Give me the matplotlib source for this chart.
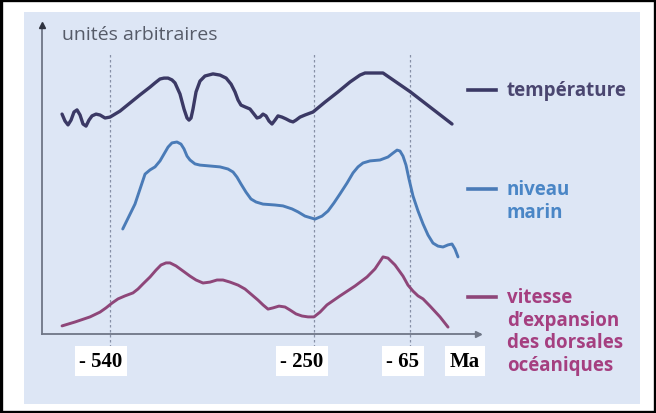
import numpy as np
import matplotlib
matplotlib.use("Agg")
import matplotlib.pyplot as plt
from matplotlib.patches import Rectangle
from matplotlib.lines import Line2D

# ---------------- data (time in Ma, values in arbitrary units) ----------------
temp_t = [-608.2, -604, -599.7, -595.4, -591.2, -586.9, -582.6, -578.4, -574.1, -569.9,
          -565.6, -559.9, -554.2, -547.1, -540, -525.8, -511.6, -497.4, -483.1, -476,
          -469, -463.2, -457.5, -451.9, -447.6, -440.5, -434.8, -430.5, -427.7, -424.8,
          -422, -417.7, -412.1, -405, -393.6, -383.6, -374.9, -367.9, -362.3, -358,
          -353.8, -348.1, -341, -335.3, -331, -326.8, -322.5, -318.2, -314, -309.7,
          -305.4, -301.2, -295.5, -289.8, -284.1, -279.8, -275.6, -269.9, -262.8, -251.4,
          -228.8, -203.7, -180.6, -161.4, -151.7, -117, -65, -19.5]
temp_v = [7.33, 7.1, 6.97, 7.13, 7.4, 7.47, 7.3, 7.0, 6.93, 7.13,
          7.27, 7.33, 7.3, 7.2, 7.23, 7.43, 7.7, 7.97, 8.23, 8.37,
          8.5, 8.53, 8.53, 8.47, 8.37, 8.0, 7.5, 7.2, 7.13, 7.2,
          7.5, 8.07, 8.43, 8.6, 8.67, 8.63, 8.53, 8.33, 8.07, 7.8,
          7.63, 7.57, 7.5, 7.33, 7.2, 7.23, 7.33, 7.27, 7.1, 7.0,
          7.13, 7.27, 7.23, 7.17, 7.1, 7.07, 7.13, 7.23, 7.3, 7.4,
          7.73, 8.07, 8.4, 8.63, 8.7, 8.7, 8.08, 7.0]

mer_t = [-521.9, -504.5, -490.2, -483.1, -476, -468.9, -463.2, -457.5, -451.9, -444.8,
         -439.1, -434.8, -430.5, -426.3, -419.2, -412.1, -397.8, -383.6, -372.3, -365.1,
         -359.5, -353.8, -346.7, -339.6, -332.4, -322.5, -305.4, -294.1, -281.3, -272.7,
         -262.8, -248.1, -234.6, -223, -211.5, -199.9, -186.4, -174.8, -165.2, -155.6,
         -142.1, -122.8, -107.4, -97.8, -90, -84.3, -78.5, -72.7, -67, -61.75,
         -56.3, -50.9, -45.5, -40.1, -34.7, -29.25, -23.8, -19.5, -16.25, -13]
mer_v = [3.5, 4.33, 5.33, 5.47, 5.57, 5.77, 6.0, 6.23, 6.37, 6.4,
         6.33, 6.17, 5.93, 5.8, 5.67, 5.63, 5.6, 5.57, 5.5, 5.4,
         5.23, 5.0, 4.73, 4.5, 4.4, 4.33, 4.3, 4.27, 4.17, 4.07,
         3.93, 3.83, 3.93, 4.1, 4.37, 4.67, 5.03, 5.37, 5.57, 5.7,
         5.77, 5.8, 5.9, 6.03, 6.13, 6.1, 5.93, 5.63, 5.17, 4.6,
         4.1, 3.67, 3.3, 3.03, 2.93, 2.9, 2.97, 3.0, 2.83, 2.57]

vit_t = [-608.2, -589.8, -568.4, -554.2, -545.7, -537.2, -528.6, -518.7, -507.3, -500.2,
         -493.1, -483.1, -474.6, -467.5, -460.4, -454.7, -446.2, -436.2, -426.3, -417.7,
         -407.8, -397.8, -387.9, -379.4, -369.4, -358, -348.1, -338.1, -329.6, -322.5,
         -315.4, -308.3, -299.8, -291.2, -284.1, -275.6, -267.1, -258.5, -250, -238.4,
         -225, -199.9, -171, -147.9, -132.5, -117, -107.4, -93.9, -78.5, -68.9,
         -61.75, -56.3, -50.9, -43.3, -32.5, -23.8]
vit_v = [0.27, 0.4, 0.57, 0.73, 0.87, 1.03, 1.17, 1.27, 1.37, 1.5,
         1.67, 1.9, 2.13, 2.3, 2.37, 2.37, 2.27, 2.1, 1.93, 1.8,
         1.7, 1.73, 1.8, 1.8, 1.73, 1.63, 1.5, 1.3, 1.13, 0.97,
         0.83, 0.87, 0.93, 0.9, 0.8, 0.67, 0.6, 0.57, 0.57, 0.73,
         0.97, 1.27, 1.6, 1.9, 2.17, 2.57, 2.53, 2.3, 1.93, 1.63,
         1.43, 1.27, 1.17, 0.93, 0.57, 0.23]

ticks = [-540, -250, -65]
tick_labels = ["- 540", "- 250", "- 65"]
unit_label = "Ma"
y_label = "unités arbitraires"
legend_labels = [["température"], ["niveau", "marin"],
                 ["vitesse", "d\u2019expansion", "des dorsales", "océaniques"]]

# ---------------- styling ----------------
W, H = 656, 414
c_temp = "#3b3965"
c_mer = "#4a7bb7"
c_vit = "#8e4679"
txt_temp = "#4a4670"
txt_mer = "#4a86c6"
txt_vit = "#a53f80"
bg = "#dde6f5"
axis_c = "#6f7686"

# schematic (non-linear) time axis
T_anchor = np.array([-700.0, -540.0, -250.0, -65.0, 0.0, 100.0])
P_anchor = np.array([-2.5, 110.0, 314.0, 410.0, 470.0, 562.3])
def fwd(t):
    return np.interp(t, T_anchor, P_anchor)
def inv(p):
    return np.interp(p, P_anchor, T_anchor)

def fx(x):
    return x / W
def fy(y):
    return 1 - y / H

fig = plt.figure(figsize=(W / 100, H / 100), dpi=100)
fig.patch.set_facecolor("white")
fig.add_artist(Rectangle((0.002, 0.003), 0.996, 0.994, transform=fig.transFigure,
                         fill=False, edgecolor="black", linewidth=2.4))
fig.add_artist(Rectangle((fx(24), fy(405)), fx(640) - fx(24), fy(13) - fy(405),
                         transform=fig.transFigure, facecolor=bg, edgecolor="none",
                         zorder=0))

ax = fig.add_axes([fx(42), fy(335), fx(480) - fx(42), fy(26) - fy(335)])
ax.set_facecolor("none")
ax.set_xscale("function", functions=(fwd, inv))
ax.set_xlim(inv(42), inv(480))
ax.set_ylim(0, 309 / 30)
for s in ["top", "right"]:
    ax.spines[s].set_visible(False)
for s in ["left", "bottom"]:
    ax.spines[s].set_color(axis_c)
    ax.spines[s].set_linewidth(1.3)
ax.set_xticks([])
ax.set_yticks([])

# arrow heads
ax.plot([inv(42)], [309 / 30], marker="^", ms=5, color="#2f3340", clip_on=False, zorder=5)
ax.plot([inv(478)], [0], marker=">", ms=5, color=axis_c, clip_on=False, zorder=5)

# dashed reference lines
ax.vlines(ticks, -13 / 30, (335 - 55) / 30, colors="#8790a6", linestyles=(0, (2, 2)),
          linewidth=0.9, clip_on=False, zorder=1)

# curves
kw = dict(solid_joinstyle="round", solid_capstyle="round", zorder=3)
ax.plot(temp_t, temp_v, color=c_temp, lw=2.4, **kw)
ax.plot(mer_t, mer_v, color=c_mer, lw=2.1, **kw)
ax.plot(vit_t, vit_v, color=c_vit, lw=2.1, **kw)

# y label
ax.text(inv(62), (335 - 35) / 30, y_label, fontsize=14, color="#565b68",
        family=["Open Sans", "DejaVu Sans"], va="center", ha="left")

# tick labels in white boxes
offs = [-9, -12, -7]
for t, lab, o in zip(ticks, tick_labels, offs):
    ax.annotate(lab, xy=(t, 0), xytext=(o, -27), textcoords="offset pixels",
                ha="center", va="center", fontsize=15, fontweight="bold",
                family=["Liberation Serif", "DejaVu Serif"], color="black",
                bbox=dict(boxstyle="square,pad=0.22", fc="white", ec="none"),
                annotation_clip=False, zorder=6)
fig.text(fx(465), fy(362), unit_label, ha="center", va="center", fontsize=15,
         fontweight="bold", family=["Liberation Serif", "DejaVu Serif"],
         bbox=dict(boxstyle="square,pad=0.25", fc="white", ec="none"))

# legend
leg_y = [91, 190, 298]
leg_cols = [c_temp, c_mer, c_vit]
leg_txt_cols = [txt_temp, txt_mer, txt_vit]
for y, lines, lc, tc in zip(leg_y, legend_labels, leg_cols, leg_txt_cols):
    fig.add_artist(Line2D([fx(468), fx(496)], [fy(y), fy(y)], transform=fig.transFigure,
                          color=lc, lw=2.6))
    for i, ln in enumerate(lines):
        fig.text(fx(507), fy(y + 5 + i * 22.7), ln, ha="left", va="baseline",
                 fontsize=13.5, fontweight="bold", color=tc,
                 family=["Open Sans", "DejaVu Sans"])

fig.savefig("out.png", dpi=100, facecolor=fig.get_facecolor())
